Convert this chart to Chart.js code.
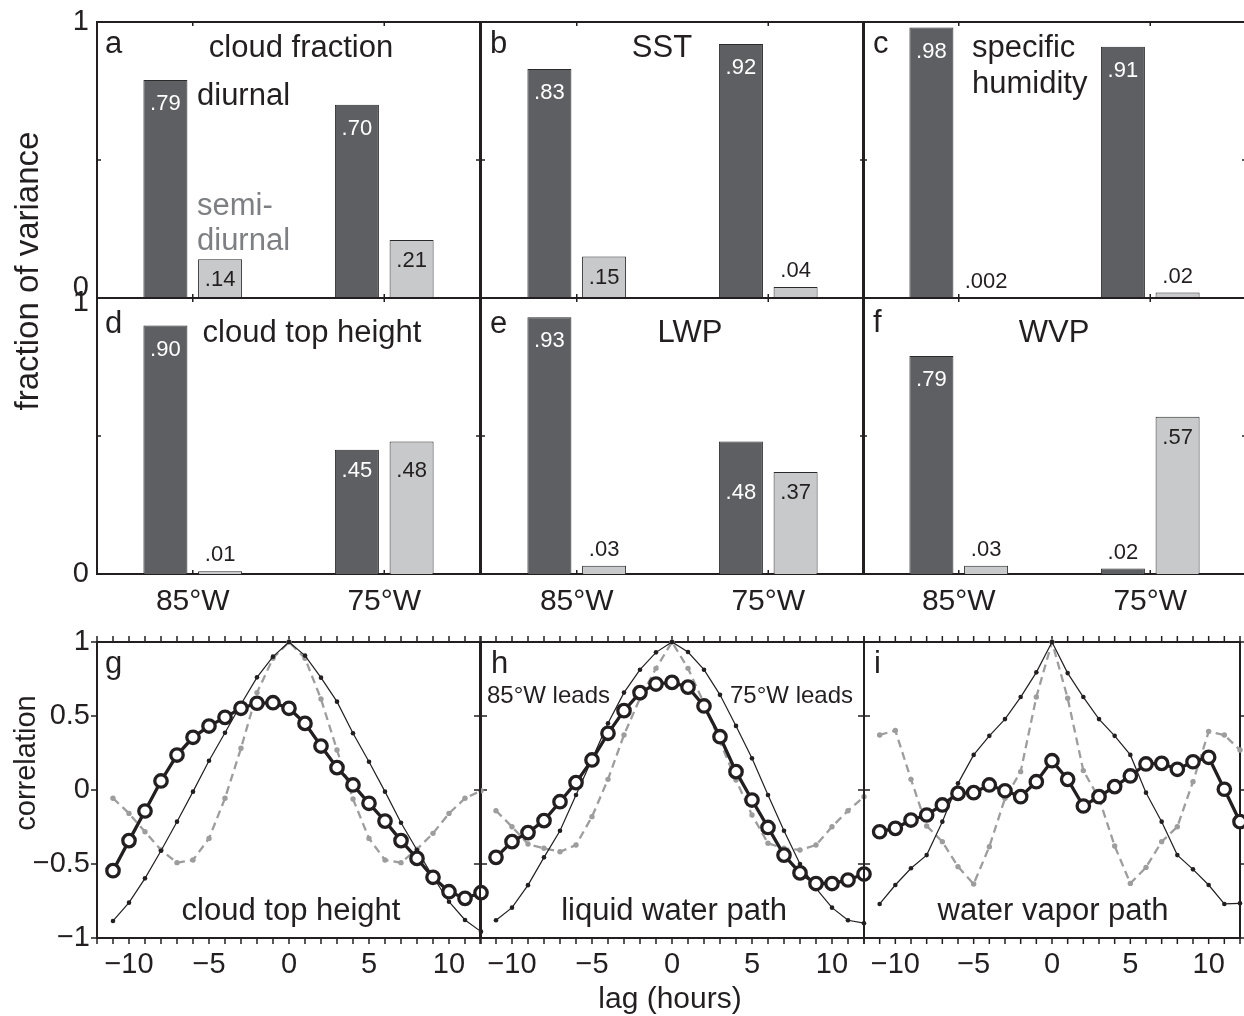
<!DOCTYPE html>
<html>
<head>
<meta charset="utf-8">
<title>Diurnal variance and lag correlation</title>
<script src="https://cdn.jsdelivr.net/npm/chart.js@4.4.1/dist/chart.umd.min.js"></script>
<style>
  body { margin: 0; background: #fff; overflow: hidden; }
  #fig { position: relative; width: 1244px; height: 1016px; overflow: hidden; background: #fff; }
  #fig canvas { position: absolute; left: 0; top: 0; }
</style>
</head>
<body>
<div id="fig"></div>
<script>
const W = 1250, H = 1016;
const INK = '#231f20';
const DARK = '#5e5f63';
const LIGHT = '#c8c9cb';
const GRAY = '#9d9d9d';
const GRAYTXT = '#7d7f82';
const FONT = '"Liberation Sans", Arial, Helvetica, sans-serif';

Chart.defaults.font.family = FONT;
Chart.defaults.color = INK;

// fraction of variance in the diurnal / semidiurnal harmonics
const sites = ['85°W', '75°W'];
const cloudFracDiurnal = [0.79, 0.70];
const cloudFracSemi = [0.14, 0.21];
const sstDiurnal = [0.83, 0.92];
const sstSemi = [0.15, 0.04];
const humidDiurnal = [0.98, 0.91];
const humidSemi = [0.002, 0.02];
const cthDiurnal = [0.90, 0.45];
const cthSemi = [0.01, 0.48];
const lwpDiurnal = [0.93, 0.48];
const lwpSemi = [0.03, 0.37];
const wvpDiurnal = [0.79, 0.02];
const wvpSemi = [0.03, 0.57];

// lag correlations (hours)
const lags = [-11, -10, -9, -8, -7, -6, -5, -4, -3, -2, -1, 0, 1, 2, 3, 4, 5, 6, 7, 8, 9, 10, 11, 12];

const cthCross = [-0.545, -0.342, -0.142, 0.061, 0.236, 0.356, 0.432, 0.491, 0.552, 0.586, 0.590, 0.552,
  0.450, 0.297, 0.151, 0.034, -0.090, -0.210, -0.342, -0.462, -0.590, -0.687, -0.732, -0.694];
const cthAuto85 = [-0.885, -0.761, -0.597, -0.410, -0.214, -0.011, 0.198, 0.387, 0.579, 0.761, 0.901, 1.0,
  0.908, 0.759, 0.597, 0.383, 0.191, -0.011, -0.221, -0.405, -0.586, -0.755, -0.878, -0.957];
const cthAuto75 = [-0.056, -0.158, -0.282, -0.405, -0.491, -0.473, -0.327, -0.056, 0.282, 0.658, 0.890, 1.0,
  0.890, 0.615, 0.270, -0.061, -0.327, -0.473, -0.491, -0.400, -0.293, -0.158, -0.056, -0.005];

const lwpCross = [-0.455, -0.349, -0.288, -0.207, -0.079, 0.050, 0.203, 0.383, 0.536, 0.658, 0.716, 0.727,
  0.695, 0.568, 0.360, 0.124, -0.068, -0.253, -0.440, -0.560, -0.632, -0.632, -0.608, -0.568];
const lwpAuto85 = [-0.880, -0.795, -0.643, -0.455, -0.275, -0.034, 0.207, 0.451, 0.658, 0.813, 0.930, 1.0,
  0.932, 0.813, 0.643, 0.433, 0.214, -0.034, -0.275, -0.500, -0.665, -0.795, -0.880, -0.900];
const lwpAuto75 = [-0.140, -0.248, -0.365, -0.394, -0.417, -0.372, -0.180, 0.072, 0.372, 0.620, 0.822, 1.0,
  0.822, 0.586, 0.327, 0.068, -0.169, -0.360, -0.394, -0.405, -0.372, -0.248, -0.140, -0.045];

const wvpCross = [-0.282, -0.259, -0.203, -0.169, -0.101, -0.023, -0.018, 0.034, -0.005, -0.045, 0.056, 0.198,
  0.072, -0.108, -0.045, 0.023, 0.095, 0.176, 0.180, 0.140, 0.191, 0.221, 0.005, -0.214];
const wvpAuto85 = [-0.770, -0.642, -0.529, -0.440, -0.214, 0.045, 0.237, 0.366, 0.479, 0.628, 0.795, 1.0,
  0.790, 0.628, 0.479, 0.366, 0.237, -0.018, -0.214, -0.440, -0.536, -0.642, -0.770, -0.766];
const wvpAuto75 = [0.372, 0.402, 0.072, -0.243, -0.349, -0.518, -0.635, -0.383, -0.056, 0.124, 0.628, 1.0,
  0.620, 0.131, -0.056, -0.378, -0.631, -0.523, -0.349, -0.248, 0.056, 0.395, 0.372, 0.270];

const minus = v => String(v).replace('-', '\u2212');
const fmtFrac = v => (v < 0.01 ? v.toFixed(3) : v.toFixed(2)).replace(/^0/, '');

// box outline plus tick marks taken from the chart's own scales
const framePlugin = {
  id: 'frame',
  beforeDatasetsDraw(chart, args, opts) {
    const {ctx, chartArea: a, scales: {x, y}} = chart;
    const d = opts.inward ? 1 : -1, len = opts.tick;
    ctx.save();
    ctx.strokeStyle = INK;
    ctx.lineWidth = 1.5;
    ctx.beginPath();
    x.ticks.forEach((t, i) => {
      const px = x.getPixelForTick(i);
      ctx.moveTo(px, a.top); ctx.lineTo(px, a.top + d * len);
      ctx.moveTo(px, a.bottom); ctx.lineTo(px, a.bottom - d * len);
    });
    y.ticks.forEach((t, i) => {
      const py = y.getPixelForTick(i);
      ctx.moveTo(a.left, py); ctx.lineTo(a.left + d * len, py);
      ctx.moveTo(a.right, py); ctx.lineTo(a.right - d * len, py);
    });
    ctx.stroke();
    ctx.lineWidth = 2;
    ctx.strokeRect(a.left, a.top, a.right - a.left, a.bottom - a.top);
    ctx.restore();
  }
};

// value printed in or above each bar
const barLabels = {
  id: 'barLabels',
  afterDatasetsDraw(chart) {
    const {ctx} = chart;
    const metas = [chart.getDatasetMeta(0), chart.getDatasetMeta(1)];
    const vals = chart.data.datasets.map(ds => ds.data);
    ctx.save();
    ctx.font = `22px ${FONT}`;
    ctx.textAlign = 'center';
    ctx.textBaseline = 'middle';
    chart.data.labels.forEach((_, j) => {
      const v = [vals[0][j], vals[1][j]];
      const bars = [metas[0].data[j], metas[1].data[j]];
      const inside = v.map(n => n >= 0.1);
      const shared = inside[0] && inside[1] && Math.abs(v[0] - v[1]) < 0.15;
      const low = Math.max(bars[0].y, bars[1].y);
      bars.forEach((b, i) => {
        let y, color = INK;
        if (inside[i]) {
          y = shared ? low + 21 : b.y + (i === 0 ? 24 : 21);
          if (i === 0) color = '#fff';
        } else {
          y = b.y - 16;
        }
        ctx.fillStyle = color;
        ctx.fillText(fmtFrac(v[i]), b.x, y);
      });
    });
    ctx.restore();
  }
};

// free text: x/y relative to the plot box, or lag-based x, or absolute page position
function makeNotes(items) {
  return {
    id: 'notes',
    afterDatasetsDraw(chart) {
      const {ctx, chartArea: a} = chart;
      items.forEach(n => {
        let x, y;
        if (n.abs) { x = n.x; y = n.y; }
        else {
          x = n.lag !== undefined ? chart.scales.x.getPixelForValue(n.lag) + (n.dx || 0) : a.left + n.x;
          y = a.top + n.y;
        }
        ctx.save();
        ctx.font = `${n.size || 31}px ${FONT}`;
        ctx.fillStyle = n.color || INK;
        ctx.textAlign = n.align || 'left';
        ctx.textBaseline = 'alphabetic';
        ctx.translate(x, y);
        if (n.rot) ctx.rotate(n.rot);
        ctx.fillText(n.text, 0, 0);
        ctx.restore();
      });
    }
  };
}

const fig = document.getElementById('fig');
function newCanvas() {
  const c = document.createElement('canvas');
  c.width = W; c.height = H;
  fig.appendChild(c);
  return c;
}
// the axes take the whole margin left of / below the plot box, so the box lands on rect
const pad = r => ({left: 0, top: r.t, right: W - r.r, bottom: 0});
const hidden = {display: false, drawTicks: false};

function barPanel(rect, diurnal, semi, cfg) {
  const yLabel = v => {
    if (v === 1) return cfg.row === 1 ? ['', '1'] : '1';
    if (v === 0) return cfg.row === 0 ? ['0', ''] : '0';
    return '';
  };
  return new Chart(newCanvas(), {
    type: 'bar',
    data: {
      labels: sites,
      datasets: [
        {label: 'diurnal', data: diurnal, backgroundColor: DARK, borderColor: '#2a2a2a', borderWidth: 1,
          categoryPercentage: 0.571, barPercentage: 0.805},
        {label: 'semidiurnal', data: semi, backgroundColor: LIGHT, borderColor: '#2a2a2a', borderWidth: 1,
          categoryPercentage: 0.571, barPercentage: 0.805}
      ]
    },
    options: {
      responsive: false, animation: false, devicePixelRatio: 1,
      layout: {padding: pad(rect)},
      scales: {
        x: {
          type: 'category', offset: true, grid: hidden, border: {display: false},
          ticks: {display: cfg.row === 1, font: {size: 30}, padding: 10, maxRotation: 0, autoSkip: false},
          afterFit: s => { s.height = H - rect.b; }
        },
        y: {
          min: 0, max: 1, grid: hidden, border: {display: false},
          ticks: {display: cfg.col === 0, stepSize: 0.5, autoSkip: false, padding: 8,
            font: {size: 29, lineHeight: cfg.row === 0 ? '20px' : '9px'}, callback: yLabel},
          afterFit: s => { s.width = rect.l; }
        }
      },
      plugins: {legend: {display: false}, tooltip: {enabled: false}, frame: {inward: true, tick: 4}}
    },
    plugins: [framePlugin, barLabels, makeNotes(cfg.notes)]
  });
}

function linePanel(rect, cross, auto85, auto75, cfg) {
  const pts = arr => lags.map((l, i) => ({x: l, y: arr[i]}));
  return new Chart(newCanvas(), {
    type: 'line',
    data: {
      datasets: [
        {label: 'cross', data: pts(cross), borderColor: INK, borderWidth: 3.3, pointRadius: 6.2,
          pointBorderWidth: 3.3, pointBorderColor: INK, pointBackgroundColor: '#fff'},
        {label: '85W', data: pts(auto85), borderColor: INK, borderWidth: 1.2, pointRadius: 2.3,
          pointBorderWidth: 0, pointBackgroundColor: INK},
        {label: '75W', data: pts(auto75), borderColor: GRAY, borderWidth: 2.3, borderDash: [8, 5],
          pointRadius: 2.7, pointBorderWidth: 0, pointBackgroundColor: GRAY}
      ]
    },
    options: {
      responsive: false, animation: false, devicePixelRatio: 1,
      layout: {padding: pad(rect)},
      datasets: {line: {tension: 0, clip: false, fill: false}},
      scales: {
        x: {
          type: 'linear', min: -12, max: 12, grid: hidden, border: {display: false},
          ticks: {stepSize: 1, autoSkip: false, maxRotation: 0, padding: 10, font: {size: 29},
            callback: v => (v % 5 === 0 ? minus(v) : '')},
          afterFit: s => { s.height = H - rect.b; }
        },
        y: {
          min: -1, max: 1, grid: hidden, border: {display: false},
          ticks: {display: cfg.col === 0, stepSize: 0.5, autoSkip: false, padding: 7, font: {size: 29},
            callback: v => minus(v)},
          afterFit: s => { s.width = rect.l; }
        }
      },
      plugins: {legend: {display: false}, tooltip: {enabled: false}, frame: {inward: false, tick: 6}}
    },
    plugins: [framePlugin, makeNotes(cfg.notes)]
  });
}

barPanel({l: 97, t: 22, r: 480, b: 298}, cloudFracDiurnal, cloudFracSemi, {row: 0, col: 0, notes: [
  {text: 'a', x: 8, y: 31},
  {text: 'cloud fraction', x: 204, y: 35, align: 'center'},
  {text: 'diurnal', x: 100, y: 83},
  {text: 'semi-', x: 100, y: 193, color: GRAYTXT},
  {text: 'diurnal', x: 100, y: 228, color: GRAYTXT},
  {text: 'fraction of variance', abs: true, x: 38, y: 271, rot: -Math.PI / 2, align: 'center', size: 33}
]});
barPanel({l: 481, t: 22, r: 864, b: 298}, sstDiurnal, sstSemi, {row: 0, col: 1, notes: [
  {text: 'b', x: 9, y: 31},
  {text: 'SST', x: 181, y: 35, align: 'center'}
]});
barPanel({l: 863, t: 22, r: 1246, b: 298}, humidDiurnal, humidSemi, {row: 0, col: 2, notes: [
  {text: 'c', x: 10, y: 31},
  {text: 'specific', x: 109, y: 35},
  {text: 'humidity', x: 109, y: 71}
]});
barPanel({l: 97, t: 298, r: 480, b: 574}, cthDiurnal, cthSemi, {row: 1, col: 0, notes: [
  {text: 'd', x: 8, y: 35},
  {text: 'cloud top height', x: 215, y: 44, align: 'center'}
]});
barPanel({l: 481, t: 298, r: 864, b: 574}, lwpDiurnal, lwpSemi, {row: 1, col: 1, notes: [
  {text: 'e', x: 9, y: 35},
  {text: 'LWP', x: 209, y: 44, align: 'center'}
]});
barPanel({l: 863, t: 298, r: 1246, b: 574}, wvpDiurnal, wvpSemi, {row: 1, col: 2, notes: [
  {text: 'f', x: 10, y: 34},
  {text: 'WVP', x: 191, y: 44, align: 'center'}
]});

linePanel({l: 97, t: 642, r: 481, b: 938}, cthCross, cthAuto85, cthAuto75, {col: 0, notes: [
  {text: 'g', x: 8, y: 31},
  {text: 'cloud top height', lag: 0, dx: 2, y: 278, align: 'center'},
  {text: 'correlation', abs: true, x: 35, y: 763, rot: -Math.PI / 2, align: 'center', size: 29}
]});
linePanel({l: 480, t: 642, r: 864, b: 938}, lwpCross, lwpAuto85, lwpAuto75, {col: 1, notes: [
  {text: 'h', x: 11, y: 31},
  {text: '85°W leads', x: 7, y: 61, size: 24},
  {text: '75°W leads', x: 373, y: 61, size: 24, align: 'right'},
  {text: 'liquid water path', lag: 0, dx: 2, y: 278, align: 'center'},
  {text: 'lag (hours)', abs: true, x: 670, y: 1008, size: 30, align: 'center'}
]});
linePanel({l: 864, t: 642, r: 1248, b: 938}, wvpCross, wvpAuto85, wvpAuto75, {col: 2, notes: [
  {text: 'i', x: 10, y: 31},
  {text: 'water vapor path', lag: 0, dx: 1, y: 278, align: 'center'}
]});
</script>
</body>
</html>
